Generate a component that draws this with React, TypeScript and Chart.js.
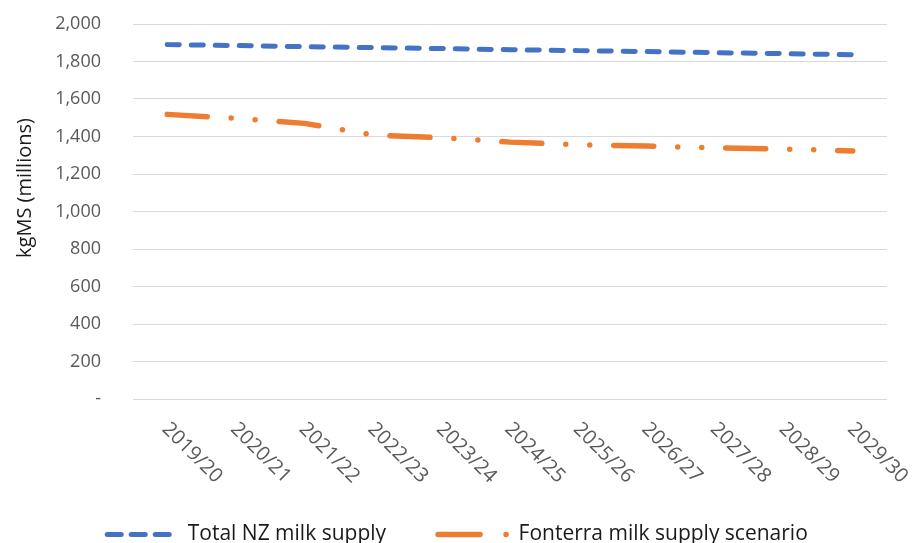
import React, { useEffect, useRef } from 'react';
import { Chart, registerables } from 'chart.js';

Chart.register(...registerables);

const categories = ['2019/20', '2020/21', '2021/22', '2022/23', '2023/24', '2024/25', '2025/26', '2026/27', '2027/28', '2028/29', '2029/30'];
const totalNZSupply = [1890, 1885, 1879, 1874, 1869, 1863, 1858, 1853, 1847, 1842, 1836];
const fonterraScenario = [1518, 1497, 1470, 1408, 1393, 1370, 1356, 1349, 1339, 1333, 1323];
const yTickLabels = ['-', '200', '400', '600', '800', '1,000', '1,200', '1,400', '1,600', '1,800', '2,000'];
const seriesNames = ['Total NZ milk supply', 'Fonterra milk supply scenario'];
const yAxisTitle = 'kgMS (millions)';

const FONT = "'Open Sans', sans-serif";
const BLUE = '#4472C4';
const ORANGE = '#ED7D31';
const TICK_COLOR = '#595959';

const overlayPlugin = {
  id: 'overlay',
  afterDraw(chart: any) {
    const ctx = chart.ctx;
    const xs = chart.scales.x;
    ctx.save();
    ctx.font = `20px ${FONT}`;
    ctx.fillStyle = TICK_COLOR;
    ctx.textAlign = 'left';
    ctx.textBaseline = 'middle';
    categories.forEach((c, i) => {
      const px = xs.getPixelForTick(i);
      ctx.save();
      ctx.translate(px - 2, chart.chartArea.bottom + 27);
      ctx.rotate(Math.PI / 4);
      ctx.fillText(c, 0, 0);
      ctx.restore();
    });
    ctx.save();
    ctx.font = `20px ${FONT}`;
    ctx.fillStyle = '#1a1a1a';
    ctx.textAlign = 'center';
    ctx.translate(25, 188);
    ctx.rotate(-Math.PI / 2);
    ctx.fillText(yAxisTitle, 0, 0);
    ctx.restore();
    ctx.restore();
  },
};

export default function App() {
  const ref = useRef<HTMLCanvasElement>(null);
  useEffect(() => {
    if (!ref.current) return;
    const chart = new Chart(ref.current, {
      type: 'line',
      data: {
        labels: categories,
        datasets: [
          {
            label: seriesNames[0],
            data: totalNZSupply,
            borderColor: BLUE,
            backgroundColor: BLUE,
            borderWidth: 5,
            borderDash: [12, 12],
            borderCapStyle: 'round',
            pointRadius: 0,
            tension: 0,
          },
          {
            label: seriesNames[1],
            data: fonterraScenario,
            borderColor: ORANGE,
            backgroundColor: ORANGE,
            borderWidth: 5.5,
            borderDash: [40, 24, 0, 24, 0, 24],
            borderCapStyle: 'round',
            pointRadius: 0,
            tension: 0,
          },
        ],
      },
      options: {
        responsive: false,
        animation: false,
        layout: { padding: { top: 24, right: 28, left: 28, bottom: 0 } },
        scales: {
          x: {
            type: 'category',
            offset: true,
            grid: { display: false },
            border: { display: false },
            ticks: { display: false },
            afterFit: (s: any) => {
              s.height = 73;
            },
          },
          y: {
            min: 0,
            max: 2000,
            grid: { color: '#d9d9d9', lineWidth: 1, drawTicks: true, tickLength: 32, tickColor: 'rgba(0,0,0,0)' },
            border: { display: false },
            ticks: {
              stepSize: 200,
              padding: 0,
              color: TICK_COLOR,
              font: { family: FONT, size: 18 },
              callback: (_v: any, i: number) => yTickLabels[i],
            },
            afterFit: (s: any) => {
              s.width = 105;
            },
          },
        },
        plugins: {
          tooltip: { enabled: false },
          legend: {
            position: 'bottom',
            maxHeight: 71,
            labels: {
              usePointStyle: true,
              pointStyle: 'line',
              pointStyleWidth: 70,
              padding: 52,
              color: '#1a1a1a',
              font: { family: FONT, size: 21 },
              generateLabels: (chart: any) => {
                const items = Chart.defaults.plugins.legend.labels.generateLabels(chart);
                return items.map((it: any, i: number) => ({
                  ...it,
                  pointStyle: 'line',
                  lineCap: 'round',
                  lineDash: i === 0 ? [14, 10] : [42, 26, 0, 100],
                }));
              },
            },
          },
        },
      },
      plugins: [overlayPlugin],
    });
    return () => chart.destroy();
  }, []);
  return (
    <div style={{ position: 'absolute', left: 0, top: 0, width: 915, height: 543 }}>
      <canvas ref={ref} width={915} height={543} />
    </div>
  );
}
